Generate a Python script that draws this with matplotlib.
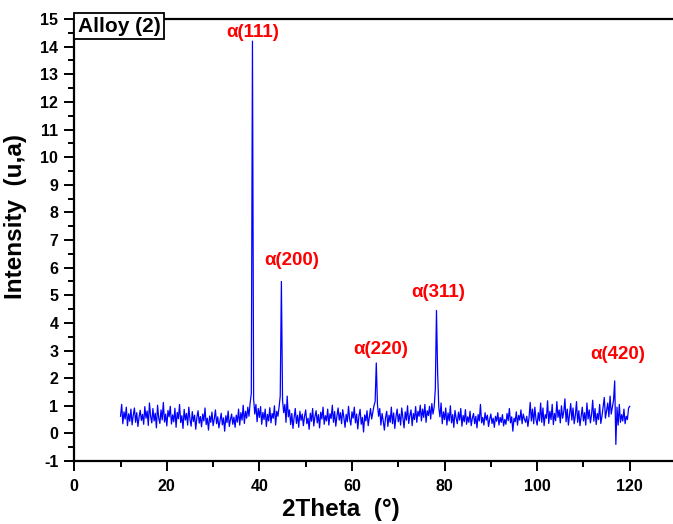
import numpy as np
import matplotlib
matplotlib.use("Agg")
import matplotlib.pyplot as plt
from matplotlib.ticker import MultipleLocator

# scan grid 10..120 deg, 0.25 deg step
two_theta = np.arange(10.0, 120.001, 0.25)

# intensity (row = 5 deg)
intensity = [
    0.62, 1.05, 0.35, 0.78, 0.52, 0.95, 0.28, 0.71, 0.44, 0.88, 0.31, 0.66, 0.92, 0.40, 0.75, 0.25, 0.58, 0.84, 0.47, 0.69,
    0.33, 0.97, 0.55, 0.81, 0.29, 1.10, 0.62, 0.38, 0.90, 0.45, 0.73, 0.20, 1.02, 0.56, 0.36, 0.85, 0.49, 1.12, 0.41, 0.70,
    0.27, 0.83, 0.60, 0.98, 0.34, 0.67, 0.42, 0.91, 0.22, 0.76, 0.53, 1.05, 0.39, 0.64, 0.18, 0.87, 0.48, 0.72, 0.30, 0.95,
    0.51, 0.26, 0.79, 0.43, 0.66, 0.15, 0.58, 0.82, 0.37, 0.61, 0.24, 0.70, 0.45, 0.92, 0.32, 0.55, 0.12, 0.63, 0.40, 0.77,
    0.28, 0.52, 0.85, 0.35, 0.60, 0.20, 0.47, 0.73, 0.31, 0.56, 0.08, 0.64, 0.39, 0.81, 0.25, 0.50, 0.70, 0.33, 0.59, 0.22,
    0.66, 0.41, 0.88, 0.30, 0.75, 0.48, 1.02, 0.36, 0.80, 0.55, 0.95, 0.62, 1.10, 1.45, 14.2, 1.25, 0.70, 1.05, 0.42, 0.90,
    0.58, 0.97, 0.33, 0.76, 0.50, 0.88, 0.25, 0.69, 0.45, 0.93, 0.38, 0.72, 0.55, 1.00, 0.30, 0.80, 0.62, 0.95, 1.35, 5.50,
    1.20, 0.75, 1.05, 0.40, 1.35, 0.60, 0.85, 0.32, 0.72, 0.18, 0.58, 0.90, 0.36, 0.66, 0.22, 0.80, 0.47, 0.70, 0.28, 0.62,
    0.85, 0.35, 0.55, 0.15, 0.73, 0.44, 0.90, 0.27, 0.61, 0.82, 0.38, 0.68, 0.20, 0.77, 0.52, 0.95, 0.33, 0.64, 0.45, 0.88,
    0.30, 0.71, 0.54, 1.02, 0.40, 0.79, 0.26, 0.63, 0.92, 0.48, 0.75, 0.35, 0.86, 0.57, 0.22, 0.69, 0.42, 0.98, 0.51, 0.30,
    0.78, 0.55, 0.95, 0.38, 0.70, 0.16, 0.62, 0.87, 0.33, 0.58, 0.05, 0.67, 0.45, 0.82, 0.28, 0.60, 0.90, 0.52, 0.75, 1.00,
    1.15, 2.55, 1.05, 0.62, 0.90, 0.30, 0.72, 0.45, 0.12, 0.58, 0.80, 0.25, 0.66, 0.40, 0.95, 0.35, 0.74, 0.18, 0.60, 0.88,
    0.42, 0.70, 0.30, 0.92, 0.55, 0.20, 0.78, 0.48, 1.00, 0.36, 0.65, 0.85, 0.28, 0.72, 0.50, 0.97, 0.40, 0.80, 0.62, 1.02,
    0.45, 0.88, 0.58, 1.05, 0.40, 0.82, 0.65, 0.98, 0.52, 1.08, 0.70, 0.95, 1.60, 4.45, 2.20, 0.95, 0.60, 1.10, 0.35, 0.78,
    0.50, 0.92, 0.30, 0.74, 0.45, 1.00, 0.38, 0.68, 0.22, 0.83, 0.55, 0.35, 0.77, 0.48, 0.90, 0.26, 0.65, 0.42, 0.86, 0.33,
    0.60, 0.40, 0.80, 0.28, 0.55, 0.72, 0.35, 0.62, 0.20, 0.68, 0.45, 1.05, 0.38, 0.58, 0.30, 0.75, 0.48, 0.66, 0.25, 0.52,
    0.70, 0.36, 0.55, 0.22, 0.62, 0.44, 0.75, 0.30, 0.58, 0.40, 0.68, 0.27, 0.50, 0.33, 0.72, 0.46, 0.90, 0.38, 0.60, 0.08,
    0.55, 0.42, 0.78, 0.30, 0.65, 0.48, 0.85, 0.35, 0.70, 0.52, 0.40, 0.62, 0.25, 0.58, 1.12, 0.45, 0.88, 0.35, 0.95, 0.50,
    0.30, 0.75, 0.45, 1.10, 0.40, 0.92, 0.28, 0.68, 0.55, 1.18, 0.36, 0.80, 0.50, 1.05, 0.32, 0.72, 0.46, 1.15, 0.58, 0.85,
    0.38, 1.00, 0.55, 0.78, 1.25, 0.42, 0.88, 0.30, 0.70, 1.08, 0.48, 0.92, 0.35, 0.65, 1.15, 0.40, 0.82, 0.28, 0.60, 0.95,
    0.45, 0.75, 0.30, 1.10, 0.52, 0.85, 0.38, 0.68, 1.20, 0.44, 0.90, 0.32, 0.72, 0.50, 1.05, 0.36, 0.62, 0.95, 1.30, 0.55,
    0.82, 1.10, 0.60, 1.35, 0.70, 0.95, 1.20, 1.90, -0.40, 0.95, 0.30, 1.05, 0.40, 0.68, 0.45, 0.88, 0.35, 0.62, 0.50, 0.92,
    0.98,
]

# peak labels and where they sit
peak_labels = ["α(111)", "α(200)", "α(220)", "α(311)", "α(420)"]
label_x = [38.5, 47.0, 66.1, 78.6, 117.5]
label_y = [14.5, 6.25, 3.05, 5.1, 2.85]

plt.rcParams['font.family'] = ['Liberation Sans', 'DejaVu Sans']
plt.rcParams['font.weight'] = 'bold'
plt.rcParams['axes.unicode_minus'] = False

fig = plt.figure(figsize=(6.73, 5.24), dpi=100)
ax = fig.add_axes([0.1103, 0.1202, 0.8942, 0.8435])

ax.plot(two_theta, intensity, color="#0000ff", lw=0.9)

for lab, x, y in zip(peak_labels, label_x, label_y):
    ax.text(x, y, lab, color="#ff0000", fontsize=13.5, fontweight="bold",
            ha="center", va="center")

ax.text(0.075, 0.984, "Alloy (2)", transform=ax.transAxes, fontsize=15,
        fontweight="bold", ha="center", va="center",
        bbox=dict(boxstyle="square,pad=0.18", fc="white", ec="black", lw=1.3))

ax.set_xlim(0, 130)
ax.set_ylim(-1, 15)
ax.xaxis.set_major_locator(MultipleLocator(20))
ax.xaxis.set_minor_locator(MultipleLocator(10))
ax.yaxis.set_major_locator(MultipleLocator(1))
ax.yaxis.set_minor_locator(MultipleLocator(0.5))
ax.tick_params(which="major", direction="out", length=7, width=1.4, labelsize=11.5)
ax.tick_params(which="minor", direction="out", length=4, width=1.4)
ax.tick_params(axis="x", which="major", pad=6)
ax.tick_params(axis="y", which="major", pad=4.5)
for lbl in ax.get_xticklabels() + ax.get_yticklabels():
    lbl.set_fontweight("bold")
for sp in ax.spines.values():
    sp.set_linewidth(1.6)

ax.set_xlabel("2Theta  (°)", fontsize=17.5, fontweight="bold")
ax.set_ylabel("Intensity  (u,a)", fontsize=17.5, fontweight="bold")
ax.xaxis.set_label_coords(0.443, -0.084)
ax.yaxis.set_label_coords(-0.078, 0.554)

fig.savefig("out.png", dpi=100)
